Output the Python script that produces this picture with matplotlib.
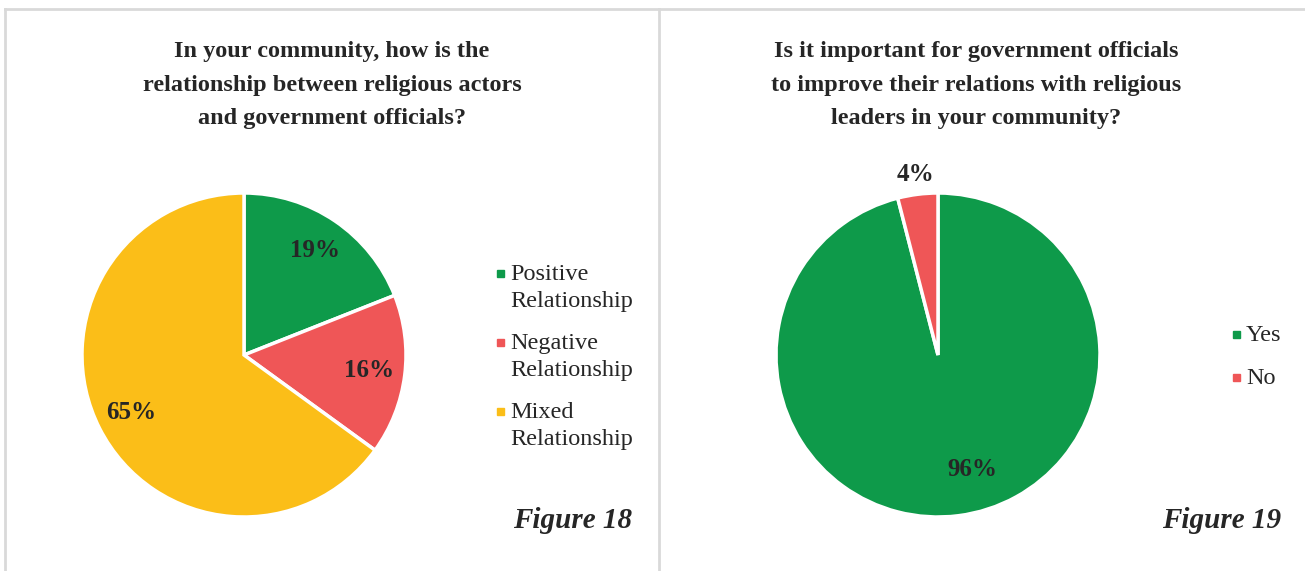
import numpy as np
import matplotlib
matplotlib.use('Agg')
import matplotlib.pyplot as plt
from matplotlib.lines import Line2D
from matplotlib.patches import Rectangle

plt.rcParams['font.family'] = ['Liberation Serif', 'DejaVu Serif']

# Figure 18 data
rel_labels = ['Positive\nRelationship', 'Negative\nRelationship', 'Mixed\nRelationship']
rel_values = [19, 16, 65]
rel_colors = ['#0E9A4A', '#EF5657', '#FBBE18']

# Figure 19 data
imp_labels = ['Yes', 'No']
imp_values = [96, 4]
imp_colors = ['#0E9A4A', '#EF5657']

W, H = 1305, 571
fig = plt.figure(figsize=(W / 100, H / 100), dpi=100)
TXT = '#262626'


def px(x, y):
    return x / W, 1 - y / H


# panel borders
for (x0, y0), (x1, y1) in [((5, 9), (1305, 9)), ((5, 9), (5, 571)), ((659, 9), (659, 571))]:
    a, b = px(x0, y0)
    c, d = px(x1, y1)
    fig.add_artist(Line2D([a, c], [b, d], color='#D9D9D9', lw=2))

R = 162


def pie_axes(cx, cy):
    l, b = px(cx - R, cy + R)
    ax = fig.add_axes([l, b, 2 * R / W, 2 * R / H])
    return ax


title_kw = dict(ha='center', va='center', fontsize=17.5, fontweight='bold', color=TXT, linespacing=1.78)
pct_kw = dict(fontsize=18, fontweight='bold', color=TXT)
fig_kw = dict(ha='right', va='center', fontsize=21, fontweight='bold', style='italic', color=TXT)

# ---- Figure 18 ----
ax1 = pie_axes(244, 355)
w1, _, t1 = ax1.pie(rel_values, colors=rel_colors, startangle=90, counterclock=False,
                    autopct='%d%%', pctdistance=0.78,
                    wedgeprops=dict(edgecolor='white', linewidth=2.5),
                    textprops=pct_kw)
ax1.set_xlim(-1, 1)
ax1.set_ylim(-1, 1)

fig.text(*px(332, 85), 'In your community, how is the\nrelationship between religious actors\nand government officials?',
         **title_kw)

for i, (lab, col) in enumerate(zip(rel_labels, rel_colors)):
    y = 274 + i * 69
    fig.add_artist(Rectangle(px(497, y + 3), 7 / W, 7 / H, color=col))
    fig.text(*px(510, y - 10), lab, ha='left', va='top', fontsize=17.5, color=TXT, linespacing=1.4)

fig.text(*px(632, 520), 'Figure 18', **fig_kw)

# ---- Figure 19 ----
ax2 = pie_axes(938, 355)
w2, _, t2 = ax2.pie(imp_values, colors=imp_colors, startangle=90, counterclock=False,
                    autopct='%d%%', pctdistance=0.76,
                    wedgeprops=dict(edgecolor='white', linewidth=2.5),
                    textprops=pct_kw)
ax2.set_xlim(-1, 1)
ax2.set_ylim(-1, 1)
# small slice label sits outside, large one nudged toward the right
ang_no = np.deg2rad(90 + imp_values[1] / 100 * 180)
t2[1].set_position((1.12 * np.cos(ang_no), 1.12 * np.sin(ang_no)))
ang_yes = np.deg2rad(-73.5)
t2[0].set_position((0.74 * np.cos(ang_yes), 0.74 * np.sin(ang_yes)))

fig.text(*px(976, 85), 'Is it important for government officials\nto improve their relations with religious\nleaders in your community?',
         **title_kw)

for i, (lab, col) in enumerate(zip(imp_labels, imp_colors)):
    y = 335 + i * 43
    fig.add_artist(Rectangle(px(1233, y + 3), 7 / W, 7 / H, color=col))
    fig.text(*px(1246, y - 10), lab, ha='left', va='top', fontsize=17.5, color=TXT)

fig.text(*px(1281, 520), 'Figure 19', **fig_kw)

fig.savefig('out.png', dpi=100)
